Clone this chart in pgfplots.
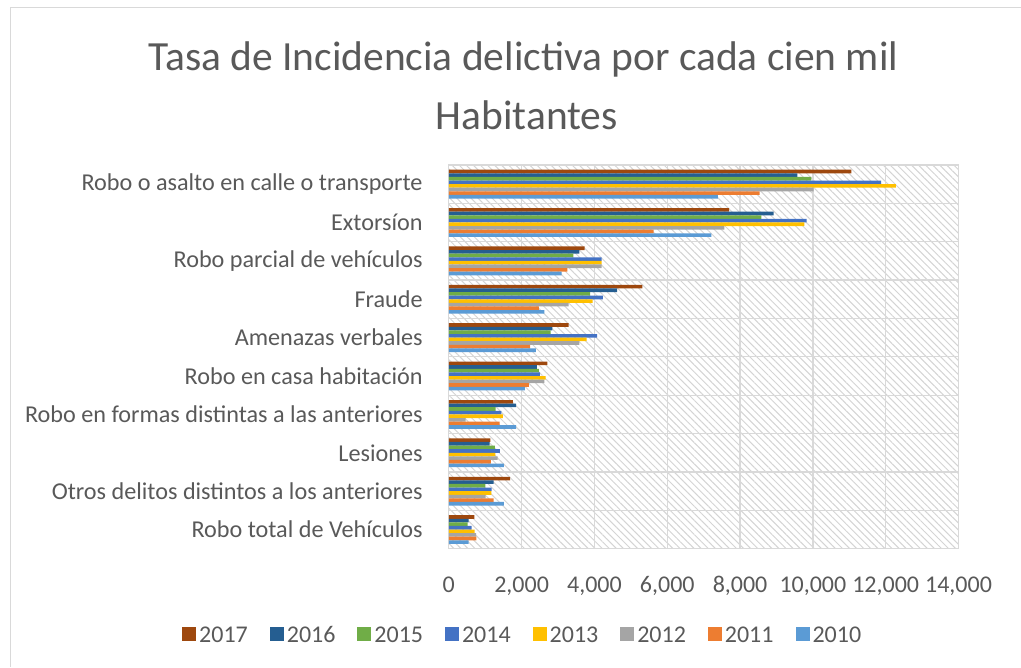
\documentclass[border=0pt]{standalone}
\usepackage{fontspec}
\setmainfont{Carlito}
\usepackage{pgfplots}
\pgfplotsset{compat=1.18}
\usetikzlibrary{patterns.meta}
\definecolor{txt}{HTML}{595959}
\definecolor{c2017}{HTML}{9E480E}
\definecolor{c2016}{HTML}{255E91}
\definecolor{c2015}{HTML}{70AD47}
\definecolor{c2014}{HTML}{4472C4}
\definecolor{c2013}{HTML}{FFC000}
\definecolor{c2012}{HTML}{A5A5A5}
\definecolor{c2011}{HTML}{ED7D31}
\definecolor{c2010}{HTML}{5B9BD5}
\begin{document}
\begin{tikzpicture}[x=1pt,y=1pt]
\path (0,0) rectangle (1021,667);
\draw[black!15, line width=1pt] (10.5,0) -- (10.5,659.5) -- (1021,659.5);
\node[anchor=base, text=txt, font=\fontsize{41.5}{50}\selectfont, inner sep=0pt] at (523.5,596) {Tasa de Incidencia delictiva por cada cien mil};
\node[anchor=base, text=txt, font=\fontsize{41.5}{50}\selectfont, inner sep=0pt] at (527,537) {Habitantes};
\begin{axis}[
  at={(449pt,118pt)}, anchor=south west, scale only axis,
  width=510pt, height=384pt,
  xbar, bar width=3.6pt,
  xmin=0, xmax=14000, xtick={0,2000,...,14000},
  ymin=-0.5, ymax=9.5, y dir=reverse,
  ytick={0,...,9},
  yticklabels={Robo o asalto en calle o transporte, Extorsíon, Robo parcial de vehículos, Fraude, Amenazas verbales, Robo en casa habitación, Robo en formas distintas a las anteriores, Lesiones, Otros delitos distintos a los anteriores, Robo total de Vehículos},
  minor ytick={0.5,1.5,...,8.5},
  xmajorgrids, yminorgrids,
  grid style={draw=black!15, line width=1.3pt},
  minor grid style={draw=black!15, line width=1.3pt},
  axis line style={draw=black!15, line width=1.3pt},
  major tick length=0pt, minor tick length=0pt,
  tick label style={font=\fontsize{24}{28}\selectfont, text=txt},
  yticklabel style={font=\fontsize{24.2}{28}\selectfont},
  scaled x ticks=false,
  /pgf/number format/.cd, 1000 sep={,}, assume math mode=true, /pgfplots/.cd,
  xticklabel style={anchor=base, yshift=-44pt},
  yticklabel style={anchor=east, inner sep=0pt, xshift=-26pt},
  axis background/.style={pattern={Lines[angle=-45,distance=5pt,line width=1pt]}, pattern color=black!17},
  legend style={at={(0.146,-0.2214)}, anchor=center, draw=none, fill=none,
    font=\fontsize{24}{28}\selectfont, text=txt, legend columns=8,
    nodes={inner sep=3pt},
    /tikz/every even column/.append style={column sep=19pt}},
  legend image code/.code={\fill[#1,draw=none] (0pt,-7pt) rectangle (14pt,7pt);},
]
\addplot[fill=c2017, draw=none, bar shift=12.6pt] coordinates {(11054,0) (7697,1) (3730,2) (5317,3) (3292,4) (2709,5) (1760,6) (1140,7) (1687,8) (702,9)};
\addplot[fill=c2016, draw=none, bar shift=9pt] coordinates {(9576,0) (8919,1) (3584,2) (4624,3) (2845,4) (2417,5) (1851,6) (1122,7) (1231,8) (547,9)};
\addplot[fill=c2015, draw=none, bar shift=5.4pt] coordinates {(9959,0) (8582,1) (3420,2) (3885,3) (2800,4) (2471,5) (1286,6) (1268,7) (1003,8) (520,9)};
\addplot[fill=c2014, draw=none, bar shift=1.8pt] coordinates {(11874,0) (9831,1) (4195,2) (4232,3) (4077,4) (2499,5) (1441,6) (1404,7) (1176,8) (629,9)};
\addplot[fill=c2013, draw=none, bar shift=-1.8pt] coordinates {(12276,0) (9767,1) (4195,2) (3949,3) (3785,4) (2663,5) (1487,6) (1277,7) (1167,8) (711,9)};
\addplot[fill=c2012, draw=none, bar shift=-5.4pt] coordinates {(10023,0) (7570,1) (4195,2) (3292,3) (3584,4) (2626,5) (465,6) (1341,7) (1012,8) (748,9)};
\addplot[fill=c2011, draw=none, bar shift=-9pt] coordinates {(8536,0) (5627,1) (3256,2) (2471,3) (2234,4) (2198,5) (1395,6) (1158,7) (1231,8) (757,9)};
\addplot[fill=c2010, draw=none, bar shift=-12.6pt] coordinates {(7387,0) (7214,1) (3101,2) (2626,3) (2389,4) (2088,5) (1851,6) (1514,7) (1514,8) (547,9)};
\legend{\strut 2017,\strut 2016,\strut 2015,\strut 2014,\strut 2013,\strut 2012,\strut 2011,\strut 2010}
\end{axis}
\end{tikzpicture}
\end{document}
